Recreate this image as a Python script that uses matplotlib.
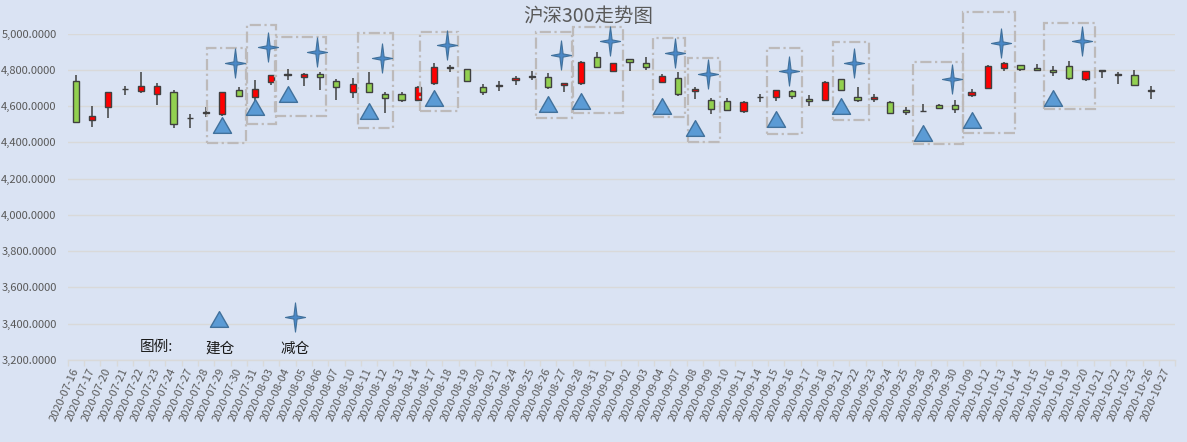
import matplotlib

matplotlib.use("Agg")
import matplotlib.pyplot as plt
import numpy as np
from matplotlib.path import Path
from matplotlib.patches import Rectangle
from matplotlib.ticker import FuncFormatter, MultipleLocator

plt.rcParams["font.family"] = ["Noto Sans CJK SC", "DejaVu Sans"]

# ==================== 数据 ====================
DATES = [
    "2020-07-16", "2020-07-17", "2020-07-20", "2020-07-21", "2020-07-22", "2020-07-23",
    "2020-07-24", "2020-07-27", "2020-07-28", "2020-07-29", "2020-07-30", "2020-07-31",
    "2020-08-03", "2020-08-04", "2020-08-05", "2020-08-06", "2020-08-07", "2020-08-10",
    "2020-08-11", "2020-08-12", "2020-08-13", "2020-08-14", "2020-08-17", "2020-08-18",
    "2020-08-19", "2020-08-20", "2020-08-21", "2020-08-24", "2020-08-25", "2020-08-26",
    "2020-08-27", "2020-08-28", "2020-08-31", "2020-09-01", "2020-09-02", "2020-09-03",
    "2020-09-04", "2020-09-07", "2020-09-08", "2020-09-09", "2020-09-10", "2020-09-11",
    "2020-09-14", "2020-09-15", "2020-09-16", "2020-09-17", "2020-09-18", "2020-09-21",
    "2020-09-22", "2020-09-23", "2020-09-24", "2020-09-25", "2020-09-28", "2020-09-29",
    "2020-09-30", "2020-10-09", "2020-10-12", "2020-10-13", "2020-10-14", "2020-10-15",
    "2020-10-16", "2020-10-19", "2020-10-20", "2020-10-21", "2020-10-22", "2020-10-23",
    "2020-10-26", "2020-10-27",
]

OPEN = [
    4739, 4521, 4594, 4693, 4683, 4666, 4677, 4533, 4564, 4556, 4690, 4650,
    4730, 4773, 4760, 4776, 4738, 4675, 4727, 4666, 4666, 4633, 4727, 4812,
    4804, 4705, 4713, 4743, 4762, 4760, 4716, 4725, 4870, 4796, 4859, 4837,
    4732, 4754, 4683, 4633, 4628, 4572, 4649, 4650, 4683, 4640, 4631, 4749,
    4650, 4639, 4622, 4578, 4573, 4605, 4607, 4659, 4699, 4809, 4826, 4809,
    4798, 4820, 4749, 4797, 4773, 4771, 4685, np.nan,
]
CLOSE = [
    4512, 4547, 4677, 4695, 4710, 4710, 4501, 4535, 4566, 4677, 4655, 4694,
    4771, 4775, 4776, 4760, 4705, 4721, 4675, 4644, 4633, 4705, 4815, 4814,
    4736, 4677, 4715, 4754, 4764, 4703, 4727, 4842, 4815, 4837, 4842, 4815,
    4765, 4666, 4695, 4583, 4578, 4622, 4651, 4688, 4655, 4627, 4734, 4688,
    4633, 4651, 4561, 4565, 4575, 4589, 4582, 4677, 4822, 4837, 4804, 4798,
    4787, 4752, 4793, 4795, 4775, 4716, 4687, np.nan,
]
HIGH = [
    4772, 4598, 4679, 4708, 4787, 4727, 4688, 4556, 4593, 4679, 4705, 4741,
    4773, 4804, 4783, 4787, 4749, 4754, 4787, 4675, 4675, 4708, 4837, 4824,
    4806, 4721, 4740, 4767, 4796, 4780, 4729, 4850, 4897, 4839, 4861, 4873,
    4776, 4787, 4703, 4644, 4644, 4629, 4666, 4690, 4690, 4659, 4739, 4750,
    4705, 4666, 4626, 4594, 4611, 4613, 4633, 4695, 4824, 4842, 4828, 4831,
    4820, 4850, 4795, 4797, 4787, 4798, 4710, np.nan,
]
LOW = [
    4510, 4484, 4534, 4662, 4670, 4605, 4479, 4479, 4538, 4545, 4648, 4629,
    4714, 4743, 4708, 4688, 4633, 4644, 4675, 4561, 4622, 4627, 4717, 4787,
    4734, 4659, 4683, 4714, 4743, 4692, 4677, 4716, 4814, 4787, 4794, 4798,
    4725, 4655, 4640, 4556, 4571, 4560, 4622, 4628, 4639, 4600, 4626, 4687,
    4622, 4622, 4560, 4550, 4567, 4585, 4560, 4651, 4697, 4791, 4793, 4793,
    4763, 4743, 4736, 4754, 4721, 4715, 4639, np.nan,
]

# 建仓 / 减仓 标记
BUY_DATES = [
    "2020-07-29", "2020-07-31", "2020-08-04", "2020-08-11", "2020-08-17", "2020-08-26",
    "2020-08-28", "2020-09-04", "2020-09-08", "2020-09-15", "2020-09-21", "2020-09-28",
    "2020-10-09", "2020-10-16",
]
BUY_VALUES = [4496, 4595, 4667, 4573, 4647, 4609, 4628, 4603, 4479, 4526, 4598, 4449, 4523, 4645]
SELL_DATES = [
    "2020-07-30", "2020-08-03", "2020-08-06", "2020-08-12", "2020-08-18", "2020-08-27",
    "2020-09-01", "2020-09-07", "2020-09-09", "2020-09-16", "2020-09-22", "2020-09-30",
    "2020-10-13", "2020-10-20",
]
SELL_VALUES = [4837, 4926, 4898, 4865, 4937, 4882, 4959, 4893, 4777, 4793, 4837, 4749, 4948, 4959]

# 虚线框 (x0, x1 为类别位置, y0, y1 为指数值)
BOXES = [
    (8.05, 10.43, 4397, 4920), (10.49, 12.28, 4501, 5047), (12.23, 15.36, 4545, 4981),
    (17.32, 19.47, 4479, 5003), (21.13, 23.46, 4573, 5008), (28.23, 30.44, 4534, 5008),
    (30.50, 33.57, 4562, 5035), (35.41, 37.38, 4540, 4975), (37.56, 39.53, 4402, 4865),
    (42.41, 44.56, 4446, 4920), (46.48, 48.69, 4523, 4953), (51.39, 54.46, 4391, 4843),
    (54.46, 57.65, 4452, 5118), (59.47, 62.60, 4584, 5058),
]

# ==================== 样式 ====================
BG = "#dae3f3"
UP_COLOR = "#ff0000"
DOWN_COLOR = "#92d050"
EDGE = "#404040"
TEXT_GRAY = "#595959"
MARK_FILL = "#5b9bd5"
MARK_EDGE = "#41719c"
STAR_FILL = "#4a88c7"

TRIANGLE = Path([(-1, -0.87), (1, -0.87), (0, 0.87), (-1, -0.87)],
                [Path.MOVETO, Path.LINETO, Path.LINETO, Path.CLOSEPOLY])
_r = 0.16
STAR = Path([(0, 1.45), (_r, _r), (1, 0), (_r, -_r), (0, -1.45), (-_r, -_r),
             (-1, 0), (-_r, _r), (0, 1.45)],
            [Path.MOVETO] + [Path.LINETO] * 7 + [Path.CLOSEPOLY])

fig = plt.figure(figsize=(11.87, 4.42), dpi=100, facecolor=BG)
ax = fig.add_axes([0.0570, 0.1855, 0.9330, 0.7387])
ax.set_facecolor(BG)

x = np.arange(len(DATES))
o = np.array(OPEN, dtype=float)
c = np.array(CLOSE, dtype=float)
h = np.array(HIGH, dtype=float)
l = np.array(LOW, dtype=float)
ok = ~np.isnan(o)

# 影线
ax.vlines(x[ok], l[ok], h[ok], color=EDGE, linewidth=1.1, zorder=2)
# 实体
colors = [UP_COLOR if cc >= oo else DOWN_COLOR for oo, cc in zip(o[ok], c[ok])]
ax.bar(x[ok], c[ok] - o[ok], bottom=o[ok], width=0.38, color=colors,
       edgecolor=EDGE, linewidth=1.0, zorder=3)

# 标记
idx = {d: i for i, d in enumerate(DATES)}
bx = [idx[d] for d in BUY_DATES]
sx = [idx[d] - 0.2 for d in SELL_DATES]
ax.plot(bx, BUY_VALUES, linestyle="none", marker=TRIANGLE, markersize=13,
        markerfacecolor=MARK_FILL, markeredgecolor=MARK_EDGE, markeredgewidth=1.0,
        zorder=5, clip_on=False)
ax.plot(sx, SELL_VALUES, linestyle="none", marker=STAR, markersize=21,
        markerfacecolor=STAR_FILL, markeredgecolor=MARK_EDGE, markeredgewidth=0.8,
        zorder=5, clip_on=False)

for x0, x1, y0, y1 in BOXES:
    ax.add_patch(Rectangle((x0, y0), x1 - x0, y1 - y0, fill=False,
                           edgecolor="#bdbaba", linewidth=1.6,
                           linestyle=(0, (5, 1.6, 1, 1.6)), zorder=4, clip_on=False))

# 坐标轴
ax.set_xlim(-0.5, len(DATES) - 0.5)
ax.set_ylim(3200, 5000)
ax.yaxis.set_major_locator(MultipleLocator(200))
ax.yaxis.set_major_formatter(FuncFormatter(lambda v, p: f"{v:,.4f}"))
ax.grid(axis="y", color="#d9d9d9", linewidth=1.0, zorder=0)
ax.set_axisbelow(True)
for s in ("top", "right", "left"):
    ax.spines[s].set_visible(False)
ax.spines["bottom"].set_color("#d9d9d9")
ax.spines["bottom"].set_linewidth(1.0)

ax.set_xticks(np.arange(len(DATES) + 1) - 0.5)
ax.set_xticklabels([])
ax.set_xticks(x, minor=True)
ax.set_xticklabels(DATES, minor=True, rotation=66, ha="right", va="center",
                   rotation_mode="anchor", fontsize=8, color=TEXT_GRAY)
ax.tick_params(axis="x", which="major", length=4, color="#d9d9d9", width=1)
ax.tick_params(axis="x", which="minor", length=0, pad=6)
ax.tick_params(axis="y", length=0, pad=8, labelsize=8, labelcolor=TEXT_GRAY)

# 标题
fig.text(588 / 1187, 1 - 17 / 442, "沪深300走势图", ha="center", va="center",
         fontsize=14, color=TEXT_GRAY)

# 图例
fig.text(156 / 1187, 1 - 347 / 442, "图例:", ha="center", va="center", fontsize=10.5, color="#1a1a1a")
fig.text(220 / 1187, 1 - 349 / 442, "建仓", ha="center", va="center", fontsize=10.5, color="#1a1a1a")
fig.text(295 / 1187, 1 - 349 / 442, "减仓", ha="center", va="center", fontsize=10.5, color="#1a1a1a")
fig.lines.append(plt.Line2D([219 / 1187], [1 - 319 / 442], transform=fig.transFigure,
                            linestyle="none", marker=TRIANGLE, markersize=13,
                            markerfacecolor=MARK_FILL, markeredgecolor=MARK_EDGE, markeredgewidth=1.0))
fig.lines.append(plt.Line2D([295 / 1187], [1 - 317 / 442], transform=fig.transFigure,
                            linestyle="none", marker=STAR, markersize=21,
                            markerfacecolor=STAR_FILL, markeredgecolor=MARK_EDGE, markeredgewidth=0.8))

fig.savefig("out.png", dpi=100, facecolor=BG)
